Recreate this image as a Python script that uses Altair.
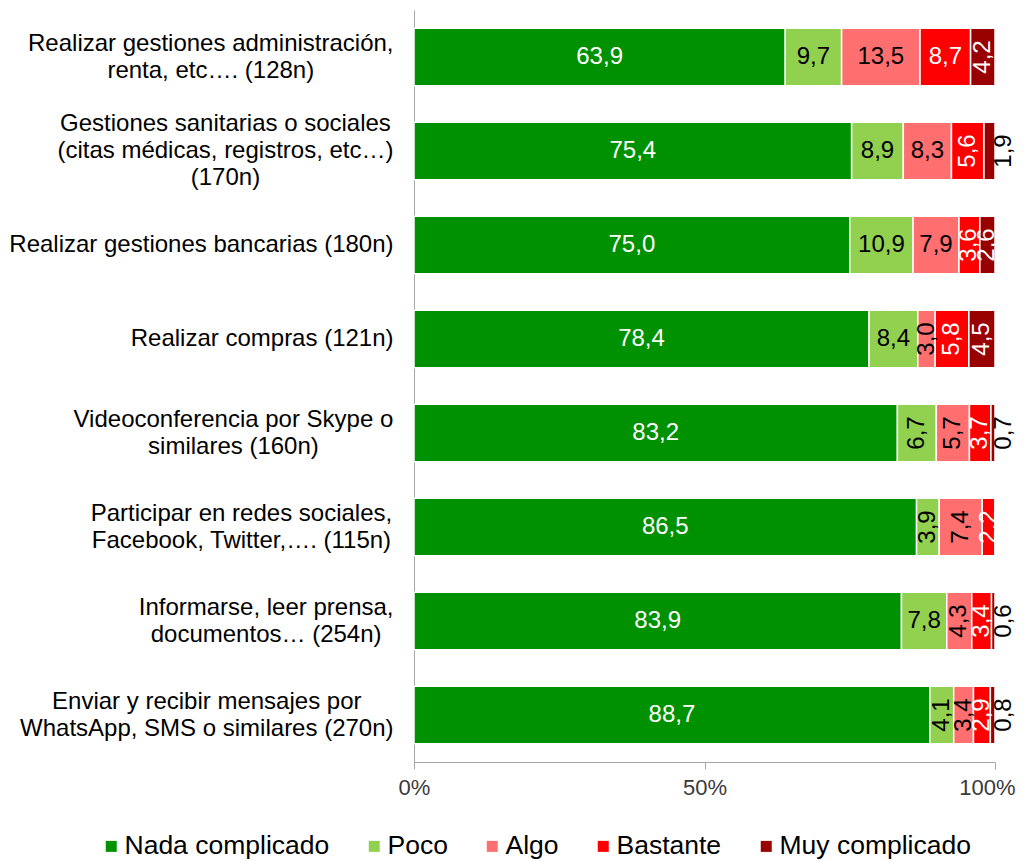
import altair as alt
import pandas as pd

categories = [
    "Realizar gestiones administración,|renta, etc…. (128n)",
    "Gestiones sanitarias o sociales|(citas médicas, registros, etc…)|(170n)",
    "Realizar gestiones bancarias (180n)",
    "Realizar compras (121n)",
    "Videoconferencia por Skype o|similares (160n)",
    "Participar en redes sociales,|Facebook, Twitter,…. (115n)",
    "Informarse, leer prensa,|documentos… (254n)",
    "Enviar y recibir mensajes por|WhatsApp, SMS o similares (270n)",
]
series = ["Nada complicado", "Poco", "Algo", "Bastante", "Muy complicado"]
nada = [63.9, 75.4, 75.0, 78.4, 83.2, 86.5, 83.9, 88.7]
poco = [9.7, 8.9, 10.9, 8.4, 6.7, 3.9, 7.8, 4.1]
algo = [13.5, 8.3, 7.9, 3.0, 5.7, 7.4, 4.3, 3.4]
bastante = [8.7, 5.6, 3.6, 5.8, 3.7, 2.2, 3.4, 2.9]
muy = [4.2, 1.9, 2.6, 4.5, 0.7, 0.0, 0.6, 0.8]
colors = ["#009100", "#92D050", "#FF6F6F", "#FF0000", "#990000"]
label_colors = ["white", "black", "black", "white", "white"]

rows = []
for si, (s, vals) in enumerate(zip(series, [nada, poco, algo, bastante, muy])):
    for ci, c in enumerate(categories):
        v = vals[ci]
        rows.append({
            "cat": c, "serie": s, "order": si, "value": v,
            "label": f"{v:.1f}".replace(".", ","),
            "lcolor": label_colors[si],
        })
df = pd.DataFrame(rows)

FONT = "Liberation Sans"
YFS = 24
LINE_H = 27

# Arial / Liberation Sans advance widths (per 1000 em) to centre multi-line labels
W = {" ": 278, "(": 333, ")": 333, ",": 278, ".": 278, "…": 1000, "|": 260}
for ch in "0123456789":
    W[ch] = 556
W.update({"A": 667, "B": 667, "C": 722, "D": 722, "E": 667, "F": 611, "G": 778,
          "H": 722, "I": 278, "K": 667, "L": 556, "M": 833, "N": 722, "O": 778,
          "P": 667, "R": 722, "S": 667, "T": 611, "U": 722, "V": 667, "W": 944,
          "Y": 667})
W.update({"a": 556, "b": 556, "c": 500, "d": 556, "e": 556, "é": 556, "f": 278,
          "g": 556, "h": 556, "i": 222, "í": 222, "j": 222, "k": 500, "l": 222,
          "m": 833, "n": 556, "o": 556, "ó": 556, "p": 556, "q": 556, "r": 333,
          "s": 500, "t": 278, "u": 556, "v": 500, "w": 722, "x": 500, "y": 500,
          "z": 500})


def text_w(s):
    return sum(W.get(ch, 556) for ch in s) * YFS / 1000.0


pad_conds = []
off_conds = []
for c in categories:
    lines = c.split("|")
    bw = max(text_w(l) for l in lines)
    pad_conds.append({"test": f"datum.value === '{c}'", "value": 21 + bw / 2})
    off_conds.append({"test": f"datum.value === '{c}'",
                      "value": -(len(lines) - 1) * LINE_H / 2})

base = alt.Chart(df).transform_stack(
    stack="value", groupby=["cat"], as_=["x0", "x1"], offset="normalize",
    sort=[alt.SortField("order", order="ascending")],
).transform_calculate(mid="(datum.x0 + datum.x1) / 2")

y_enc = alt.Y("cat:N", sort=categories, title=None,
              scale=alt.Scale(paddingInner=0.39, paddingOuter=0.195),
              axis=alt.Axis(labelExpr="split(datum.label, '|')", labelFontSize=YFS,
                            labelFont=FONT, labelColor="black",
                            labelAlign="center",
                            labelPadding={"condition": pad_conds, "value": 21},
                            labelOffset={"condition": off_conds, "value": 0},
                            ticks=False, domainColor="#A6A6A6",
                            labelLineHeight=LINE_H, labelLimit=600))

bars = base.mark_bar(stroke="white", strokeWidth=1.5).encode(
    x=alt.X("x0:Q", scale=alt.Scale(domain=[0, 1]), title=None,
            axis=alt.Axis(values=[0, 0.5, 1], format=".0%", grid=False,
                          labelFontSize=22, labelFont=FONT, labelColor="#3a3a3a",
                          labelFlush=False,
                          labelOffset={"condition": {"test": "datum.value === 1",
                                                     "value": -8},
                                       "value": 0},
                          domainColor="#A6A6A6", tickColor="#A6A6A6", tickSize=7,
                          labelPadding=8)),
    x2="x1:Q",
    y=y_enc,
    color=alt.Color("serie:N", sort=series,
                    scale=alt.Scale(domain=series, range=colors),
                    legend=alt.Legend(title=None, orient="none", direction="horizontal",
                                      legendX=-316, legendY=823, padding=0,
                                      symbolType="square", symbolSize=121,
                                      symbolStrokeWidth=0, labelFontSize=26.5,
                                      labelFont=FONT, labelColor="black",
                                      labelOffset=0, labelLimit=400,
                                      columnPadding=31)),
    order=alt.Order("order:Q"),
)

text_common = dict(fontSize=24, font=FONT, align="center", baseline="middle")

h_text = base.transform_filter("datum.value >= 7.5").mark_text(**text_common).encode(
    x="mid:Q", y=alt.Y("cat:N", sort=categories),
    text="label:N", color=alt.Color("lcolor:N", scale=None),
)
r_text = base.transform_filter("datum.value >= 2 && datum.value < 7.5").mark_text(
    angle=270, **text_common).encode(
    x="mid:Q", y=alt.Y("cat:N", sort=categories),
    text="label:N", color=alt.Color("lcolor:N", scale=None),
)
o_text = base.transform_filter("datum.value > 0 && datum.value < 2").mark_text(
    angle=270, dy=9, color="black", **text_common).encode(
    x="x1:Q", y=alt.Y("cat:N", sort=categories),
    text="label:N",
)

chart = alt.layer(bars, h_text, r_text, o_text).properties(
    width=581, height=752,
    autosize=alt.AutoSizeParams(type="none"),
    padding={"left": 406, "top": 2, "right": 21, "bottom": 99},
).configure_view(stroke=None)

chart.save("out.html", embed_options={"renderer": "svg", "actions": False})
